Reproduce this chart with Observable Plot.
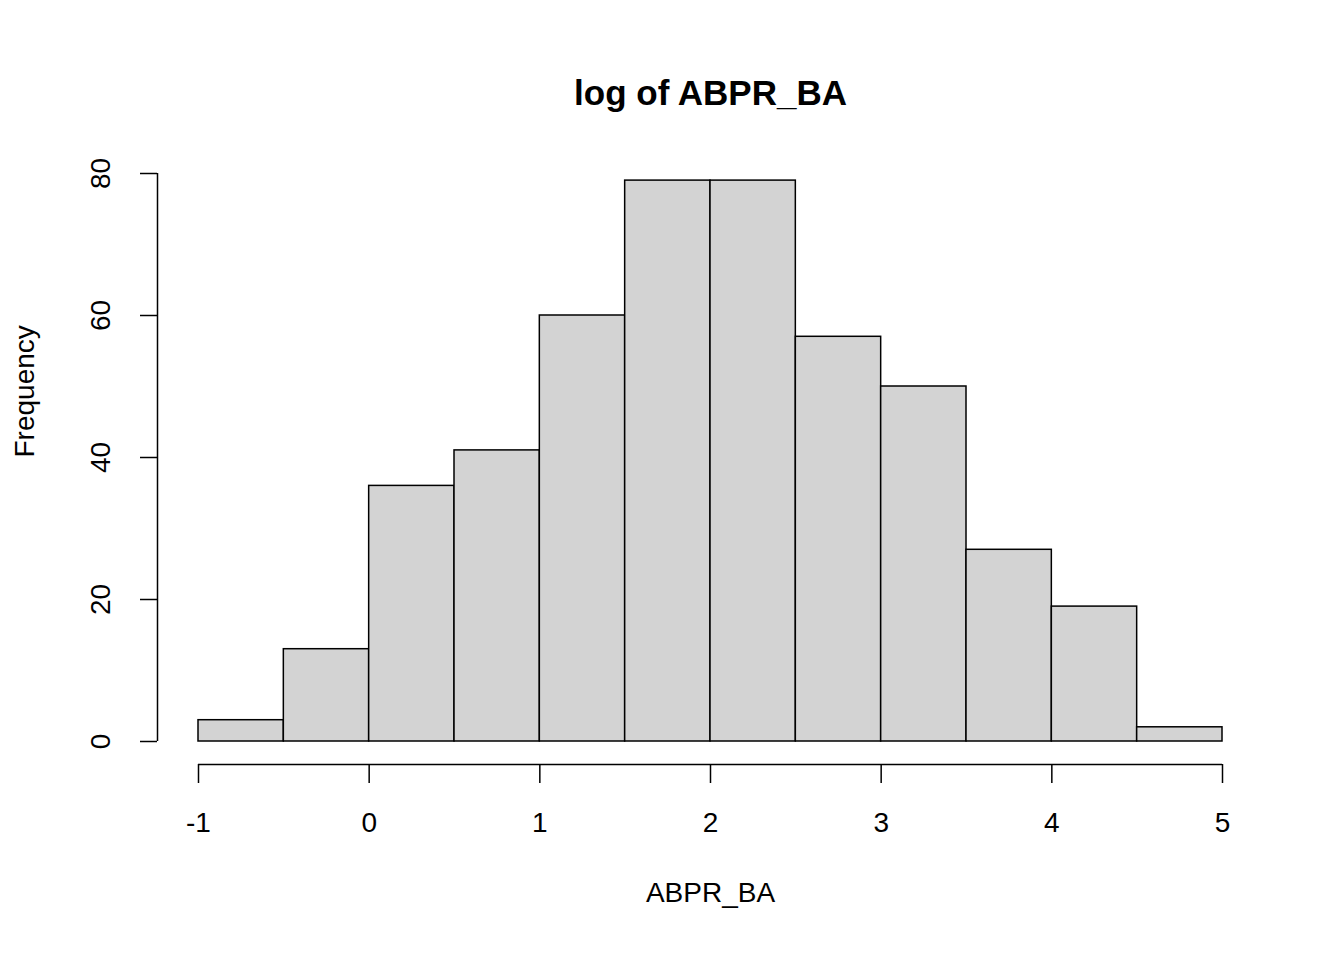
<!DOCTYPE html>
<html>
<head>
<meta charset="utf-8">
<script src="https://cdn.jsdelivr.net/npm/d3@7"></script>
<script src="https://cdn.jsdelivr.net/npm/@observablehq/plot@0.6"></script>
<style>
  body { margin: 0; background: #fff; }
  svg { font-family: "Liberation Sans", Arial, sans-serif; }
</style>
</head>
<body>
<div id="chart"></div>
<script>
// histogram bins of log(ABPR_BA)
const binStarts = [-1, -0.5, 0, 0.5, 1, 1.5, 2, 2.5, 3, 3.5, 4, 4.5];
const counts = [3, 13, 36, 41, 60, 79, 79, 57, 50, 27, 19, 2];
const xTicks = [-1, 0, 1, 2, 3, 4, 5];
const yTicks = [0, 20, 40, 60, 80];

const bins = binStarts.map((x0, i) => ({ x0, x1: x0 + 0.5, n: counts[i] }));

const plot = Plot.plot({
  width: 1344,
  height: 960,
  marginLeft: 198,
  marginRight: 122,
  marginTop: 173,
  marginBottom: 219,
  x: { domain: [-1, 5], axis: null, label: null },
  y: { domain: [0, 80], axis: null, label: null },
  style: { fontSize: "28px", color: "#000", background: "#fff" },
  marks: [
    Plot.rectY(bins, { x1: "x0", x2: "x1", y: "n", fill: "#d3d3d3", stroke: "#000", strokeWidth: 1.5, inset: 0 }),
    // x axis, offset below plot region
    Plot.ruleY([0], { x1: -1, x2: 5, dy: 23, stroke: "#000", strokeWidth: 1.5 }),
    Plot.axisX({ ticks: xTicks, tickSize: 19, tickPadding: 29, dy: 23, fontSize: 28, strokeWidth: 1.5, label: null, tickFormat: d => String(d).replace("−", "-") }),
    // y axis, offset left
    Plot.ruleX([-1], { y1: 0, y2: 80, dx: -41, stroke: "#000", strokeWidth: 1.5 }),
    Plot.axisY({ ticks: yTicks, tickSize: 17, tickPadding: 31, dx: -41, tickRotate: -90, fontSize: 28, strokeWidth: 1.5, label: null }),
    Plot.text(["ABPR_BA"], { x: () => 2, frameAnchor: "bottom", dy: 160, fontSize: 28 }),
    Plot.text(["Frequency"], { frameAnchor: "left", dx: -173, rotate: -90, fontSize: 28 }),
    Plot.text(["log of ABPR_BA"], { x: () => 2, frameAnchor: "top", dy: -93, fontSize: 35, fontWeight: "bold" })
  ]
});
document.getElementById("chart").append(plot);
</script>
</body>
</html>
